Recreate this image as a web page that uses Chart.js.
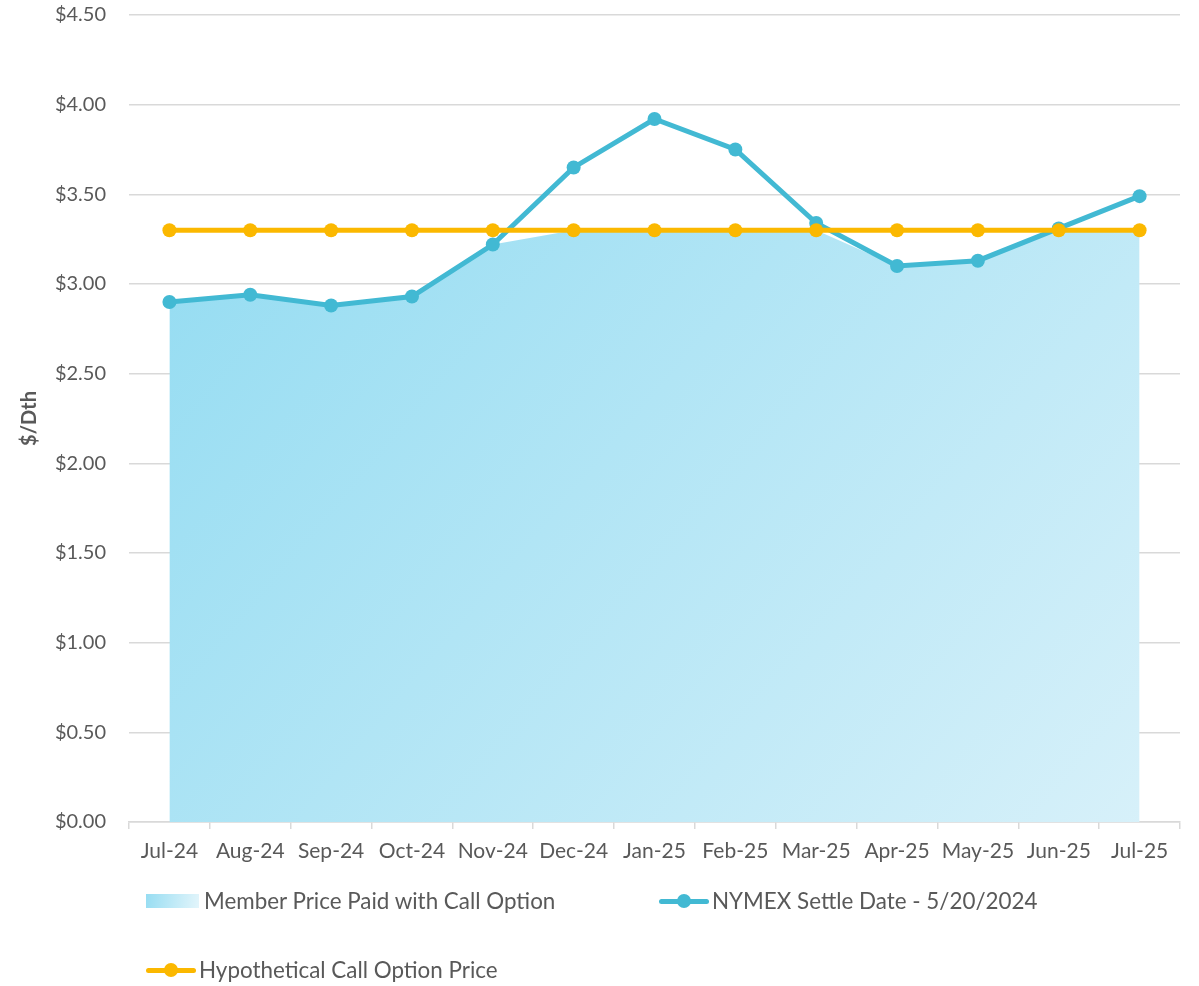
<!DOCTYPE html>
<html>
<head>
<meta charset="utf-8">
<script src="https://cdn.jsdelivr.net/npm/chart.js@4.4.0/dist/chart.umd.min.js"></script>
<style>
  html, body { margin: 0; padding: 0; background: #fff; }
  #wrap { position: relative; width: 1199px; height: 986px; }
  #legend { position: absolute; left: 0; top: 0; font-family: Lato, sans-serif; font-size: 22.4px; color: #595959; }
  .item { position: absolute; white-space: nowrap; line-height: 26px; }
  .sw { position: absolute; }
</style>
</head>
<body>
<div id="wrap">
  <canvas id="myChart" width="1199" height="986"></canvas>
  <div id="legend"></div>
</div>
<script>
var months = ['Jul-24','Aug-24','Sep-24','Oct-24','Nov-24','Dec-24','Jan-25','Feb-25','Mar-25','Apr-25','May-25','Jun-25','Jul-25'];
var nymex = [2.90, 2.94, 2.88, 2.93, 3.22, 3.65, 3.92, 3.75, 3.34, 3.10, 3.13, 3.31, 3.49];
var callPrice = [3.30, 3.30, 3.30, 3.30, 3.30, 3.30, 3.30, 3.30, 3.30, 3.30, 3.30, 3.30, 3.30];
var memberPaid = [2.90, 2.94, 2.88, 2.93, 3.22, 3.30, 3.30, 3.30, 3.30, 3.10, 3.13, 3.30, 3.30];
var seriesNames = ['Member Price Paid with Call Option', 'NYMEX Settle Date - 5/20/2024', 'Hypothetical Call Option Price'];

var teal = '#42b9d3';
var gold = '#fbb800';
var txt = '#595959';

function areaFill(context) {
    var chart = context.chart;
    var a = chart.chartArea;
    if (!a) return '#b5e6f5';
    var g = chart.ctx.createLinearGradient(a.left + 100, a.top + 200, a.right - 50, a.bottom + 150);
    g.addColorStop(0, '#97ddf2');
    g.addColorStop(1, '#dcf2fa');
    return g;
}

var ctx = document.getElementById("myChart").getContext("2d");
var myChart = new Chart(ctx, {
    type: 'line',
    data: {
        labels: months,
        datasets: [{
                label: seriesNames[0],
                data: memberPaid,
                fill: 'origin',
                backgroundColor: areaFill,
                borderWidth: 0,
                pointRadius: 0,
                tension: 0,
                order: 3
            },{
                label: seriesNames[1],
                data: nymex,
                fill: false,
                borderColor: teal,
                backgroundColor: teal,
                borderWidth: 5,
                pointRadius: 7,
                pointBorderWidth: 0,
                tension: 0,
                order: 2
            },{
                label: seriesNames[2],
                data: callPrice,
                fill: false,
                borderColor: gold,
                backgroundColor: gold,
                borderWidth: 5,
                pointRadius: 7,
                pointBorderWidth: 0,
                tension: 0,
                order: 1
            }
        ]
    },
    options: {
        responsive: false,
        animation: false,
        layout: { padding: { left: 14, top: 15, right: 19, bottom: 114 } },
        plugins: { legend: { display: false }, tooltip: { enabled: false } },
        scales: {
            x: {
                offset: true,
                grid: { offset: true, drawOnChartArea: false, tickLength: 7, color: '#d9d9d9', lineWidth: 1.5 },
                border: { color: '#d9d9d9', width: 1.5 },
                ticks: { color: txt, font: { family: 'Lato', size: 21 }, padding: 10, maxRotation: 0, autoSkip: false },
                afterFit: function (s) { s.height = 50; s.paddingLeft = 0; s.paddingRight = 0; }
            },
            y: {
                min: 0,
                max: 4.5,
                grid: { drawTicks: false, color: '#d9d9d9', lineWidth: 1.5 },
                border: { display: false },
                ticks: {
                    stepSize: 0.5,
                    padding: 23,
                    color: txt,
                    font: { family: 'Lato', size: 20 },
                    callback: function (v) { return '$' + v.toFixed(2); }
                },
                title: { display: true, text: '$/Dth', color: txt, font: { family: 'Lato', size: 20, weight: 'bold' } },
                afterFit: function (s) { s.width = 115; s.paddingTop = 0; s.paddingBottom = 0; }
            }
        }
    }
});

// legend laid out like the original: two columns, second row below
var legend = document.getElementById('legend');
var spots = [
    { x: 146, y: 901, kind: 'area', color: null },
    { x: 659, y: 901, kind: 'line', color: teal },
    { x: 146, y: 970, kind: 'line', color: gold }
];
spots.forEach(function (p, i) {
    if (p.kind === 'area') {
        var sw = document.createElement('div');
        sw.className = 'sw';
        sw.style.left = p.x + 'px';
        sw.style.top = (p.y - 7) + 'px';
        sw.style.width = '53px';
        sw.style.height = '14px';
        sw.style.background = 'linear-gradient(100deg, #97ddf2, #e3f5fb)';
        legend.appendChild(sw);
    } else {
        var ln = document.createElement('div');
        ln.className = 'sw';
        ln.style.left = p.x + 'px';
        ln.style.top = (p.y - 2.5) + 'px';
        ln.style.width = '50px';
        ln.style.height = '5px';
        ln.style.borderRadius = '3px';
        ln.style.background = p.color;
        legend.appendChild(ln);
        var dot = document.createElement('div');
        dot.className = 'sw';
        dot.style.left = (p.x + 25 - 7) + 'px';
        dot.style.top = (p.y - 7) + 'px';
        dot.style.width = '14px';
        dot.style.height = '14px';
        dot.style.borderRadius = '50%';
        dot.style.background = p.color;
        legend.appendChild(dot);
    }
    var t = document.createElement('div');
    t.className = 'item';
    t.style.left = (p.x + (p.kind === 'area' ? 58 : 53)) + 'px';
    t.style.top = (p.y - 13) + 'px';
    t.textContent = seriesNames[i];
    legend.appendChild(t);
});
</script>
</body>
</html>
